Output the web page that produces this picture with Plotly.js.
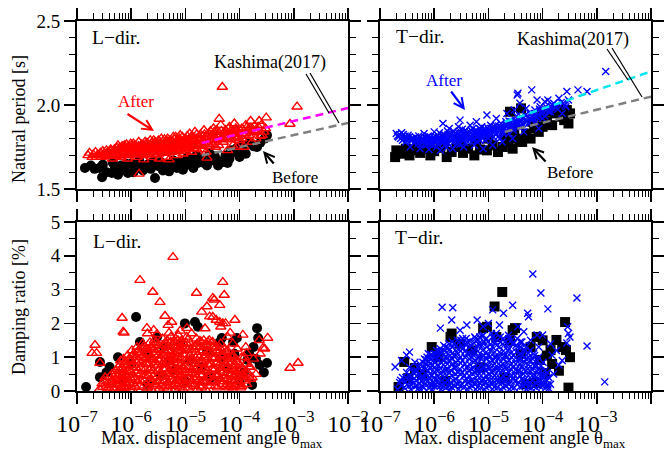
<!DOCTYPE html>
<html><head><meta charset="utf-8">
<script src="https://cdn.plot.ly/plotly-3.0.1.min.js"></script>
<style>html,body{margin:0;padding:0;background:#fff}#g{width:666px;height:454px}</style>
</head><body><div id="g"></div>
<script>
// ---------- Natural period, L-dir ----------
var perLBeforeX = [1.4e-7,2.1e-7,2.6e-7,2.9e-7,3.5e-7,4.4e-7,4.6e-7,5.7e-7,6.5e-7,7.5e-7,8.7e-7,1e-6,1.2e-6,1.4e-6,1.65e-6,2e-6,2.3e-6,2.75e-6,3.2e-6,3.85e-6,4.5e-6,5.5e-6,7e-6,8e-6,1e-5,1.2e-5,1.4e-5,1.7e-5,2e-5,2.5e-5,3e-5,3.5e-5,4.3e-5,4.9e-5,5.5e-5,6.5e-5,8e-5,1e-4,1.2e-4,1.55e-4,1.8e-4,2.1e-4,2.4e-4,2.9e-4,3.2e-4,1.3e-4,9e-5,7e-5,1.8e-7,3e-7,5e-7,8e-7,1.1e-6,1.5e-6,2.5e-6,3.5e-6,5e-6,6e-6,9e-6,1.1e-5,1.6e-5,2.2e-5,2.8e-5,4e-5,6e-5,1.1e-4];
var perLBeforeY = [1.625,1.62,1.625,1.57,1.60,1.595,1.655,1.585,1.64,1.61,1.595,1.65,1.62,1.67,1.61,1.645,1.62,1.565,1.635,1.61,1.65,1.63,1.625,1.66,1.64,1.67,1.625,1.655,1.68,1.64,1.67,1.695,1.665,1.66,1.70,1.68,1.72,1.69,1.735,1.78,1.755,1.75,1.775,1.80,1.82,1.71,1.745,1.73,1.64,1.645,1.625,1.65,1.60,1.64,1.66,1.66,1.605,1.67,1.615,1.69,1.70,1.655,1.71,1.64,1.655,1.76];
var perLAfterX = [1.6e-7,1.9e-7,2.2e-7,2.4e-7,2.8e-7,3.2e-7,3.5e-7,4e-7,4.5e-7,5e-7,5.5e-7,6e-7,6.5e-7,7e-7,7.5e-7,8e-7,8.5e-7,9e-7,1e-6,1.1e-6,1.2e-6,1.3e-6,1.4e-6,1.5e-6,1.6e-6,1.7e-6,1.8e-6,2e-6,2.2e-6,2.4e-6,2.6e-6,2.8e-6,3e-6,3.3e-6,3.6e-6,4e-6,4.4e-6,4.8e-6,5.2e-6,5.6e-6,6e-6,6.5e-6,7e-6,7.5e-6,8e-6,8.5e-6,9e-6,1e-5,1.1e-5,1.2e-5,1.3e-5,1.4e-5,1.5e-5,1.6e-5,1.8e-5,2e-5,2.2e-5,2.4e-5,2.5e-5,2.7e-5,3e-5,3.3e-5,3.6e-5,4e-5,4.2e-5,4.5e-5,4.8e-5,5e-5,5.5e-5,6e-5,6.5e-5,7e-5,7.5e-5,8e-5,9e-5,1e-4,1.1e-4,1.2e-4,1.3e-4,1.5e-4,1.6e-4,1.8e-4,2e-4,2.2e-4,2.3e-4,2.6e-4,3.1e-4,3e-4,8.5e-4,1.15e-3,3.8e-7,5.8e-7,6.8e-7,8.8e-7,9.5e-7,1.15e-6,1.35e-6,1.55e-6,1.9e-6,2.1e-6,2.3e-6,2.7e-6,3.1e-6,3.5e-6,3.9e-6,4.2e-6,4.6e-6,5e-6,5.4e-6,5.9e-6,6.3e-6,6.8e-6,7.3e-6,7.8e-6,8.3e-6,9.2e-6,1.05e-5,1.15e-5,1.25e-5,1.35e-5,1.45e-5,1.7e-5,1.9e-5,2.1e-5,2.3e-5,2.6e-5,2.9e-5,3.2e-5,3.5e-5,3.8e-5,4.4e-5,5.2e-5,5.8e-5,6.8e-5,7.8e-5,8.5e-5,9.5e-5,1.05e-4,1.25e-4,1.4e-4,1.7e-6,3.3e-6,5e-6,9e-5,1.7e-4,2.4e-4];
var perLAfterY = [1.70,1.69,1.72,1.705,1.69,1.71,1.73,1.70,1.68,1.72,1.745,1.70,1.69,1.73,1.76,1.71,1.68,1.74,1.705,1.77,1.72,1.69,1.59,1.75,1.73,1.70,1.78,1.72,1.76,1.69,1.79,1.74,1.71,1.77,1.80,1.73,1.69,1.76,1.79,1.72,1.81,1.75,1.70,1.78,1.82,1.74,1.71,1.80,1.76,1.83,1.72,1.78,1.84,1.74,1.81,1.77,1.85,1.72,1.685,1.83,1.79,1.86,1.75,1.82,1.917,1.88,2.107,1.78,1.85,1.73,1.87,1.81,1.76,1.89,1.84,1.79,1.86,1.75,1.88,1.82,1.905,1.85,1.80,1.87,1.905,1.82,1.925,1.86,1.887,1.99,1.72,1.73,1.755,1.725,1.755,1.745,1.735,1.765,1.745,1.705,1.735,1.765,1.75,1.725,1.785,1.755,1.735,1.775,1.745,1.765,1.795,1.735,1.765,1.80,1.755,1.785,1.745,1.795,1.765,1.815,1.755,1.795,1.825,1.755,1.805,1.775,1.845,1.765,1.81,1.85,1.795,1.835,1.80,1.845,1.825,1.86,1.81,1.845,1.815,1.85,1.675,1.68,1.675,1.75,1.78,1.815];
var perLAfterX2 = [1.7e-7,2.6e-7,3e-7,3.4e-7,4.2e-7,4.7e-7,5.3e-7,5.7e-7,6.2e-7,6.6e-7,7.2e-7,7.7e-7,8.2e-7,8.7e-7,9.2e-7,9.8e-7,1.05e-6,1.12e-6,1.18e-6,1.25e-6,1.32e-6,1.38e-6,1.45e-6,1.52e-6,1.65e-6,1.75e-6,1.85e-6,1.95e-6,2.05e-6,2.15e-6,2.25e-6,2.45e-6,2.55e-6,2.75e-6,2.9e-6,3.05e-6,3.2e-6,3.4e-6,3.7e-6,3.8e-6,4.1e-6,4.3e-6,4.5e-6,4.7e-6,4.9e-6,5.3e-6,5.7e-6,6.1e-6,6.6e-6,7.1e-6,7.6e-6,8.1e-6,8.8e-6,9.6e-6,1.02e-5,1.08e-5,1.18e-5,1.28e-5,1.38e-5,1.5e-5,1.62e-5,1.75e-5,1.95e-5,2.05e-5,2.25e-5,2.45e-5,2.75e-5,3.1e-5,3.4e-5,3.7e-5,4.1e-5,4.6e-5,5.4e-5,6.2e-5,6.6e-5,7.2e-5,8.2e-5,8.8e-5,1.15e-4,1.35e-4,1.55e-4,1.9e-4,2.1e-4,2.5e-4,2.8e-4,
  2e-7,2.3e-7,2.7e-7,3.1e-7,3.6e-7,4.1e-7,4.4e-7,4.9e-7,5.1e-7,5.6e-7,6.1e-7,6.4e-7,6.9e-7,7.4e-7,7.9e-7,8.4e-7,8.9e-7,9.4e-7,1.02e-6,1.08e-6,1.16e-6,1.22e-6,1.28e-6,1.36e-6,1.48e-6,1.58e-6,1.7e-6,1.82e-6,2.02e-6,2.18e-6,2.35e-6,2.6e-6,2.85e-6,3e-6,3.25e-6,3.55e-6,3.85e-6,4.2e-6,4.6e-6,5.1e-6,5.5e-6,6e-6,6.4e-6,7e-6,7.7e-6,8.4e-6,9.3e-6,1e-5,1.1e-5,1.22e-5,1.32e-5,1.55e-5,1.8e-5,2.15e-5,2.5e-5,3e-5,3.6e-5,4.3e-5,5e-5,5.6e-5,6.4e-5,7.6e-5,9.2e-5,1.1e-4,1.3e-4,1.6e-4,2e-4];
var perLAfterY2 = [1.715,1.70,1.725,1.695,1.735,1.715,1.695,1.76,1.72,1.74,1.705,1.745,1.765,1.74,1.70,1.77,1.73,1.71,1.76,1.75,1.715,1.78,1.725,1.705,1.755,1.735,1.715,1.775,1.755,1.735,1.79,1.755,1.72,1.78,1.76,1.735,1.79,1.76,1.74,1.715,1.795,1.77,1.715,1.80,1.755,1.725,1.785,1.75,1.81,1.785,1.725,1.79,1.81,1.765,1.725,1.815,1.74,1.80,1.745,1.79,1.825,1.76,1.80,1.735,1.825,1.79,1.755,1.815,1.84,1.79,1.76,1.845,1.81,1.86,1.795,1.83,1.805,1.85,1.83,1.865,1.84,1.875,1.845,1.88,1.84,
  1.705,1.69,1.715,1.70,1.715,1.725,1.705,1.735,1.70,1.725,1.745,1.71,1.725,1.70,1.735,1.715,1.75,1.72,1.74,1.755,1.725,1.705,1.74,1.755,1.74,1.72,1.76,1.74,1.705,1.75,1.77,1.745,1.705,1.755,1.72,1.77,1.75,1.72,1.785,1.745,1.765,1.73,1.77,1.75,1.765,1.78,1.745,1.785,1.77,1.785,1.79,1.77,1.785,1.79,1.81,1.795,1.825,1.815,1.80,1.83,1.82,1.845,1.83,1.80,1.83,1.86,1.84];
var fitLAfterX = [2e-5, 1e-2], fitLAfterY = [1.774, 1.982];
var fitLBeforeX = [2e-5, 1e-2], fitLBeforeY = [1.699, 1.893];

// ---------- Natural period, T-dir ----------
var perTBeforeX = [1.9e-7,2e-7,2.4e-7,3e-7,3.5e-7,4.2e-7,5.5e-7,7e-7,8.5e-7,1e-6,1.3e-6,1.7e-6,2.1e-6,2.6e-6,3.4e-6,4.2e-6,5.5e-6,7e-6,9.4e-6,1.2e-5,1.5e-5,1.85e-5,2.3e-5,2.8e-5,3.4e-5,3.8e-5,4.2e-5,5e-5,6e-5,7e-5,8.5e-5,1e-4,1e-4,1.2e-4,1.5e-4,1.7e-4,2.1e-4,2.5e-4,2.8e-4,3.2e-4,3e-4,2.2e-4,5e-7,1.5e-6,3e-6,6e-6,1e-5,2e-5,3e-5,6.5e-5,1.3e-4,2.5e-5,4e-5];
var perTBeforeY = [1.69,1.73,1.71,1.74,1.70,1.73,1.715,1.74,1.70,1.725,1.745,1.69,1.72,1.75,1.715,1.74,1.70,1.735,1.73,1.76,1.72,1.75,1.78,1.74,1.80,1.79,1.78,1.83,1.80,1.86,1.84,1.87,1.93,1.90,1.88,1.95,1.97,1.91,1.97,1.95,1.89,1.93,1.76,1.77,1.78,1.79,1.80,1.82,1.85,1.90,1.96,1.96,1.98];
var perTAfterX = [2e-7,2.2e-7,2.5e-7,2.8e-7,3e-7,3.3e-7,3.6e-7,4e-7,4.5e-7,5e-7,5.5e-7,6e-7,6.5e-7,7e-7,7.5e-7,8e-7,8.5e-7,9e-7,1e-6,1.1e-6,1.2e-6,1.3e-6,1.45e-6,1.5e-6,1.6e-6,1.7e-6,1.9e-6,2e-6,2.2e-6,2.4e-6,2.6e-6,2.8e-6,3e-6,3.2e-6,3.5e-6,3.8e-6,4.2e-6,4.6e-6,5e-6,5.5e-6,6e-6,6.5e-6,7e-6,7.5e-6,8e-6,8.5e-6,9.4e-6,1e-5,1.1e-5,1.2e-5,1.3e-5,1.4e-5,1.5e-5,1.7e-5,1.8e-5,2e-5,2.2e-5,2.4e-5,2.6e-5,2.8e-5,3e-5,3.4e-5,3.5e-5,3.6e-5,3.8e-5,4e-5,4.5e-5,5e-5,5.5e-5,6.3e-5,7e-5,7.9e-5,8.5e-5,9e-5,1e-4,1.1e-4,1.25e-4,1.4e-4,1.7e-4,2e-4,2.3e-4,2.8e-4,4.5e-4,6.6e-4,1.46e-3,3.8e-7,5.8e-7,6.8e-7,8.8e-7,9.5e-7,1.15e-6,1.35e-6,1.55e-6,1.8e-6,2.1e-6,2.3e-6,2.7e-6,3.1e-6,3.4e-6,3.9e-6,4.4e-6,4.8e-6,5.2e-6,5.8e-6,6.3e-6,6.8e-6,7.3e-6,7.8e-6,9e-6,1.05e-5,1.15e-5,1.25e-5,1.35e-5,1.6e-5,1.9e-5,2.1e-5,2.5e-5,2.9e-5,3.2e-5,4.2e-5,4.8e-5,6e-5,7.5e-5,9.5e-5,1.2e-4,1.6e-4];
var perTAfterY = [1.83,1.81,1.835,1.80,1.78,1.82,1.75,1.79,1.81,1.77,1.74,1.80,1.83,1.76,1.79,1.735,1.81,1.77,1.84,1.75,1.80,1.73,1.89,1.78,1.82,1.745,1.86,1.79,1.74,1.83,1.77,1.87,1.91,1.80,1.75,1.85,1.78,1.88,1.82,1.76,1.90,1.84,1.79,1.87,1.74,1.83,1.94,1.80,1.88,1.76,1.85,1.92,1.81,1.89,1.78,1.86,1.95,1.83,1.90,1.80,1.97,2.06,2.07,1.87,2.01,1.93,1.84,1.98,1.89,2.09,1.95,2.03,1.86,1.99,1.92,2.02,2.03,1.96,1.99,2.04,1.95,2.08,2.09,2.08,2.20,1.80,1.79,1.77,1.79,1.76,1.82,1.79,1.76,1.80,1.83,1.78,1.81,1.84,1.79,1.82,1.80,1.85,1.79,1.83,1.81,1.86,1.82,1.80,1.85,1.83,1.86,1.81,1.88,1.85,1.83,1.90,1.87,1.85,1.91,1.89,1.94,1.92,1.90,1.95,1.97,2.01];
var perTAfterX2 = [2.1e-7,2.4e-7,2.7e-7,3.1e-7,3.5e-7,4.2e-7,4.7e-7,5.2e-7,5.7e-7,6.2e-7,6.7e-7,7.2e-7,7.8e-7,8.3e-7,9.2e-7,1.02e-6,1.08e-6,1.18e-6,1.25e-6,1.32e-6,1.42e-6,1.5e-6,1.65e-6,1.75e-6,1.85e-6,1.97e-6,2.15e-6,2.25e-6,2.5e-6,2.65e-6,2.85e-6,2.95e-6,3.3e-6,3.6e-6,3.7e-6,4e-6,4.3e-6,4.7e-6,5.1e-6,5.4e-6,5.7e-6,6.1e-6,6.6e-6,7.1e-6,7.6e-6,8.2e-6,8.8e-6,9.7e-6,1.08e-5,1.18e-5,1.28e-5,1.42e-5,1.55e-5,1.65e-5,1.75e-5,1.85e-5,2.05e-5,2.3e-5,2.4e-5,2.7e-5,3.1e-5,3.3e-5,3.7e-5,4.1e-5,4.4e-5,5.2e-5,5.8e-5,6.6e-5,7.2e-5,8.2e-5,8.8e-5,1.05e-4,1.15e-4,1.35e-4,1.5e-4,1.8e-4,2.2e-4,2.6e-4,3e-4,
  2.3e-7,2.6e-7,2.9e-7,3.2e-7,3.7e-7,4.1e-7,4.6e-7,5.1e-7,5.6e-7,6.1e-7,6.6e-7,7.1e-7,7.7e-7,8.6e-7,9.6e-7,1.05e-6,1.14e-6,1.22e-6,1.36e-6,1.46e-6,1.62e-6,1.8e-6,2.05e-6,2.35e-6,2.55e-6,2.75e-6,3.1e-6,3.45e-6,3.8e-6,4.1e-6,4.5e-6,4.9e-6,5.3e-6,5.9e-6,6.4e-6,7e-6,7.8e-6,8.4e-6,9.2e-6,1.02e-5,1.12e-5,1.22e-5,1.38e-5,1.5e-5,1.7e-5,1.95e-5,2.2e-5,2.55e-5,2.85e-5,3.2e-5,3.6e-5,4e-5,4.7e-5,5.4e-5,6.2e-5,7e-5,8e-5,9.2e-5,1.1e-4,1.3e-4,1.45e-4,1.9e-4,2.4e-4,2.7e-4];
var perTAfterY2 = [1.815,1.80,1.825,1.795,1.81,1.775,1.795,1.815,1.765,1.785,1.805,1.78,1.815,1.765,1.80,1.78,1.81,1.765,1.835,1.80,1.775,1.825,1.795,1.845,1.77,1.815,1.80,1.845,1.80,1.785,1.83,1.765,1.855,1.81,1.775,1.835,1.80,1.815,1.86,1.80,1.84,1.785,1.825,1.855,1.81,1.845,1.79,1.865,1.815,1.84,1.87,1.83,1.875,1.80,1.86,1.845,1.88,1.86,1.905,1.875,1.89,1.935,1.905,1.87,1.92,1.905,1.95,1.925,1.97,1.94,1.975,1.955,1.99,1.975,2.0,1.985,2.015,2.0,2.03,
  1.825,1.79,1.815,1.805,1.79,1.80,1.785,1.80,1.785,1.795,1.79,1.805,1.795,1.785,1.81,1.795,1.785,1.81,1.815,1.795,1.81,1.825,1.79,1.815,1.83,1.80,1.815,1.835,1.80,1.82,1.84,1.805,1.825,1.85,1.82,1.84,1.825,1.86,1.835,1.85,1.83,1.86,1.85,1.84,1.87,1.86,1.88,1.895,1.865,1.90,1.885,1.91,1.895,1.93,1.91,1.94,1.925,1.955,1.935,1.96,1.99,1.975,2.01,1.99];
var fitTAfterX = [2e-5, 1e-2], fitTAfterY = [1.90, 2.20];
var fitTBeforeX = [2e-5, 1e-2], fitTBeforeY = [1.84, 2.05];

// ---------- Damping ratio, L-dir ----------
var dampLBeforeX = [1.47e-7,2.65e-7,2.65e-7,4e-7,5.7e-7,1.23e-6,1.45e-6,3e-6,9.8e-6,1.5e-5,1.7e-5,4.3e-5,4.7e-5,7.6e-5,8.9e-5,2.1e-4,2.2e-4,1.8e-4,1.4e-4,2.35e-4,3.2e-4,1.7e-4,6e-5,1.2e-4,8e-5,3.5e-7,7e-7,1e-6,2e-6,4e-6,6e-6,8e-6,1.2e-5,2.5e-5,3e-5,5e-5,1e-4,2e-6,5e-6,2e-5,1e-5,3.5e-6,1.5e-4,2.8e-4,2e-4];
var dampLBeforeY = [0.12,0.86,0.41,0.71,1.0,2.19,1.45,1.6,2.0,2.04,1.9,1.45,1.57,1.45,1.57,1.86,1.57,1.3,0.92,0.77,0.83,0.18,0.65,0.55,1.1,0.55,0.3,0.8,1.1,1.3,0.6,1.4,0.9,1.2,0.4,1.0,0.3,0.2,0.9,0.7,0.3,0.45,1.1,0.55,0.95];
var dampLAfterX = [2.6e-7,3e-7,3.2e-7,2.9e-7,3.8e-7,4e-7,4.2e-7,4.8e-7,5e-7,5.2e-7,5.4e-7,5.9e-7,6.1e-7,6.3e-7,6e-7,6.8e-7,7e-7,7.2e-7,7.4e-7,7.9e-7,8.1e-7,8.3e-7,8.6e-7,9.3e-7,9.7e-7,1e-6,1.03e-6,1.06e-6,1.15e-6,1.2e-6,1.24e-6,1.28e-6,1.18e-6,1.42e-6,1.48e-6,1.53e-6,1.57e-6,1.62e-6,1.74e-6,1.8e-6,1.86e-6,1.9e-6,1.95e-6,2.02e-6,2.07e-6,2.12e-6,2.17e-6,2.22e-6,2.4e-6,2.48e-6,2.55e-6,2.62e-6,2.7e-6,2.35e-6,2.9e-6,2.98e-6,3.06e-6,3.14e-6,3.22e-6,3.4e-6,3.5e-6,3.6e-6,3.7e-6,3.8e-6,3.3e-6,4e-6,4.1e-6,4.2e-6,4.3e-6,4.45e-6,4.8e-6,4.95e-6,5.1e-6,5.25e-6,5.4e-6,4.65e-6,5.8e-6,5.95e-6,6.1e-6,6.25e-6,6.4e-6,6.8e-6,6.95e-6,7.1e-6,7.25e-6,7.4e-6,6.6e-6,7.8e-6,8e-6,8.2e-6,8.4e-6,8.6e-6,9.4e-6,9.7e-6,1e-5,1.03e-5,1.06e-5,9.1e-6,1.15e-5,1.18e-5,1.21e-5,1.24e-5,1.12e-5,1.42e-5,1.47e-5,1.51e-5,1.55e-5,1.6e-5,1.72e-5,1.77e-5,1.82e-5,1.87e-5,1.68e-5,1.98e-5,2.03e-5,2.08e-5,2.13e-5,2.18e-5,2.4e-5,2.47e-5,2.54e-5,2.61e-5,2.35e-5,2.85e-5,2.93e-5,3.01e-5,3.09e-5,3.17e-5,3.4e-5,3.5e-5,3.6e-5,3.7e-5,3.9e-5,4e-5,4.1e-5,4.2e-5,4.8e-5,4.95e-5,5.1e-5,5.25e-5,5.8e-5,5.95e-5,6.1e-5,6.25e-5,6.8e-5,7e-5,7.2e-5,7.8e-5,8e-5,8.3e-5,9.6e-5,1e-4,1.04e-4,1.17e-4,1.22e-4,1.27e-4,1.5e-4,
  1.9e-7,2.15e-7,2.3e-7,2.65e-7,6.8e-7,7.1e-7,7.4e-7,1.45e-6,2.5e-6,3.4e-6,1.95e-6,2.6e-6,4.2e-6,4.8e-6,5.9e-6,5.6e-6,1.6e-5,1.07e-5,2e-5,2.5e-5,3.2e-5,3.4e-5,4.3e-5,4.9e-5,5.2e-5,3.2e-5,4.3e-5,4.9e-5,8.2e-5,6.7e-5,1.15e-4,2.3e-4,3.3e-4,2.7e-4,8.5e-4,1.2e-3,1.56e-4,1.1e-4,1e-4,2e-6,3e-6,5e-6,8e-6,1.3e-5,2.3e-5,2.8e-5,3.7e-5,4.5e-5,5.5e-5,6e-5,7.5e-5,9e-5,1.3e-4,1.35e-4,1.8e-4,2e-4,1.7e-4,2.4e-4,2.9e-4];
var dampLAfterY = [0.05,0.12,0.3,0.22,0.1,0.42,0.25,0.06,0.35,0.58,0.18,0.2,0.5,0.78,0.04,0.3,0.66,0.95,0.14,0.1,0.45,0.75,1.05,0.22,0.56,0.9,1.2,0.04,0.36,0.7,1.0,1.3,0.12,0.16,0.5,0.86,1.15,1.4,0.3,0.64,0.96,1.25,0.06,0.1,0.46,0.8,1.1,1.44,0.25,0.6,0.92,1.22,1.5,0.04,0.15,0.4,0.75,1.05,1.35,0.3,0.56,0.95,1.26,1.55,0.06,0.1,0.45,0.8,1.16,1.4,0.25,0.6,0.9,1.3,1.6,0.05,0.15,0.5,0.85,1.1,1.45,0.3,0.65,1.0,1.35,1.65,0.05,0.1,0.45,0.76,1.2,1.5,0.2,0.55,0.9,1.25,1.6,0.05,0.35,0.7,1.05,1.4,0.1,0.15,0.5,0.8,1.15,1.55,0.3,0.65,1.0,1.3,0.05,0.1,0.45,0.85,1.2,1.5,0.25,0.6,0.95,1.35,0.05,0.15,0.5,0.8,1.1,1.45,0.3,0.65,1.0,1.3,0.1,0.45,0.75,1.15,0.2,0.55,0.9,1.25,0.35,0.7,1.0,0.1,0.15,0.5,0.85,0.3,0.6,0.95,0.41,0.2,0.75,0.5,1.0,0.3,0.71,
  1.12,1.36,1.12,0.83,2.16,1.75,1.72,3.28,2.93,2.63,1.86,1.8,2.22,1.95,3.96,2.04,2.9,1.86,2.34,2.5,2.75,2.7,2.54,3.22,2.84,2.19,2.04,2.0,2.1,1.72,1.66,1.5,1.57,1.27,0.68,0.83,0.71,1.0,0.41,1.7,1.68,1.72,1.78,1.7,1.85,2.2,2.1,1.9,2.0,1.6,1.4,1.25,1.3,1.12,0.95,0.5,0.4,1.1,1.25];
var dampLAfterX2 = [3.5e-7,3.6e-7,4.5e-7,4.4e-7,5.6e-7,5.7e-7,6.5e-7,6.6e-7,6.4e-7,7.6e-7,7.7e-7,7.6e-7,8.9e-7,9e-7,9.1e-7,1.08e-6,1.1e-6,1.12e-6,1.1e-6,1.32e-6,1.35e-6,1.37e-6,1.39e-6,1.66e-6,1.68e-6,1.7e-6,1.72e-6,1.71e-6,2.28e-6,2.3e-6,2.32e-6,2.34e-6,2.76e-6,2.8e-6,2.84e-6,2.78e-6,2.74e-6,3.85e-6,3.9e-6,3.95e-6,3.88e-6,4.55e-6,4.6e-6,4.62e-6,4.68e-6,4.58e-6,5.55e-6,5.6e-6,5.65e-6,5.7e-6,6.5e-6,6.55e-6,6.6e-6,6.65e-6,6.58e-6,7.55e-6,7.6e-6,7.65e-6,7.7e-6,8.9e-6,9e-6,9.1e-6,9.2e-6,1.09e-5,1.1e-5,1.1e-5,1.1e-5,1.1e-5,1.32e-5,1.34e-5,1.36e-5,1.38e-5,1.64e-5,1.65e-5,1.66e-5,1.64e-5,1.92e-5,1.93e-5,1.94e-5,1.95e-5,2.25e-5,2.28e-5,2.3e-5,2.3e-5,2.7e-5,2.72e-5,2.75e-5,2.76e-5,3.25e-5,3.28e-5,3.3e-5,3.3e-5,3.8e-5,3.82e-5,3.85e-5,4.45e-5,4.5e-5,4.55e-5,4.5e-5,5.5e-5,5.52e-5,5.55e-5,5.6e-5,6.5e-5,6.55e-5,6.6e-5,7.5e-5,7.55e-5,7.6e-5,7.6e-5,8.8e-5,8.9e-5,9e-5,1.1e-4,1.12e-4,1.35e-4,1.4e-4,1.6e-4,
  3.3e-7,4.1e-7,4.6e-7,5.1e-7,5.5e-7,6.2e-7,6.7e-7,7.3e-7,7.5e-7,8.4e-7,8.5e-7,9.5e-7,9.6e-7,9.9e-7,1.05e-6,1.22e-6,1.26e-6,1.3e-6,1.45e-6,1.5e-6,1.55e-6,1.6e-6,1.83e-6,1.88e-6,1.93e-6,2.1e-6,2.15e-6,2.2e-6,2.25e-6,2.5e-6,2.58e-6,2.65e-6,2.68e-6,3.1e-6,3.18e-6,3.25e-6,3.28e-6,3.55e-6,3.65e-6,3.75e-6,3.8e-6,4.25e-6,4.35e-6,4.4e-6,4.5e-6,5e-6,5.2e-6,5.3e-6,5.35e-6,6e-6,6.2e-6,6.35e-6,6.35e-6,7e-6,7.2e-6,7.3e-6,7.35e-6,7.3e-6,8.3e-6,8.5e-6,8.5e-6,8.6e-6,9.9e-6,1.01e-5,1.02e-5,1.03e-5,1.22e-5,1.25e-5,1.27e-5,1.28e-5,1.45e-5,1.5e-5,1.53e-5,1.57e-5,1.8e-5,1.85e-5,1.86e-5,1.88e-5,1.85e-5,2.1e-5,2.15e-5,2.18e-5,2.2e-5,2.55e-5,2.6e-5,2.62e-5,2.6e-5,3.05e-5,3.1e-5,3.12e-5,3.15e-5,3.6e-5,3.65e-5,3.7e-5,3.72e-5,4.2e-5,4.25e-5,4.3e-5,4.3e-5,5e-5,5.05e-5,5.1e-5,6e-5,6.05e-5,6.1e-5,6.1e-5,7e-5,7.1e-5,7.2e-5,8.1e-5,8.2e-5,8.3e-5,9.5e-5,9.7e-5,1.05e-4,1.25e-4,1.3e-4,1.45e-4];
var dampLAfterY2 = [0.18,0.05,0.3,0.5,0.42,0.7,0.12,0.45,0.9,0.55,0.85,0.25,0.32,0.62,0.95,0.48,0.78,1.1,0.22,0.28,0.6,0.9,1.22,0.12,0.45,0.78,1.05,1.32,0.35,0.68,1.0,1.3,0.5,0.85,1.15,1.42,0.2,0.3,0.65,1.05,1.35,0.15,0.5,0.85,1.2,1.5,0.35,0.72,1.0,1.35,0.2,0.55,0.95,1.25,1.55,0.32,0.62,0.92,1.42,0.38,0.72,1.08,1.4,0.2,0.55,0.88,1.22,1.52,0.3,0.62,0.95,1.3,0.4,0.72,1.05,1.4,0.25,0.58,0.9,1.45,0.3,0.68,1.05,1.38,0.4,0.78,1.15,1.5,0.25,0.6,0.95,1.3,0.5,0.85,1.2,0.35,0.68,1.05,1.4,0.15,0.45,0.8,1.15,0.3,0.62,0.95,0.1,0.42,0.72,1.05,0.2,0.55,0.85,0.15,0.65,0.2,0.55,0.35,
  0.4,0.05,0.2,0.48,0.28,0.62,0.08,0.4,0.78,0.58,0.2,0.05,0.4,0.75,1.05,0.52,0.85,1.15,0.32,0.68,1.0,1.28,0.45,0.8,1.1,0.28,0.62,0.95,1.28,0.42,0.78,1.08,1.36,0.28,0.6,0.9,1.22,0.15,0.42,0.8,1.1,0.3,0.65,0.98,1.3,0.42,0.78,1.15,1.45,0.32,0.68,1.0,1.3,0.15,0.48,0.82,1.18,1.5,0.28,0.62,0.98,1.32,0.38,0.72,1.08,1.42,0.2,0.52,0.88,1.22,0.35,0.65,0.98,1.32,0.15,0.48,0.82,1.15,1.48,0.28,0.62,1.0,1.32,0.42,0.78,1.12,1.45,0.32,0.65,0.98,1.28,0.15,0.45,0.82,1.15,0.28,0.6,0.95,1.28,0.38,0.72,1.08,0.2,0.52,0.85,1.18,0.32,0.65,1.0,0.15,0.45,0.78,0.3,0.6,0.1,0.4,0.8,0.45];

// ---------- Damping ratio, T-dir ----------
var dampTBeforeX = [1.8e-5,1.3e-5,3.1e-5,7.8e-5,2.6e-4,1.8e-4,2.7e-4,3.2e-4,1.4e-4,8.9e-5,1.1e-4,7.8e-5,9e-7,2.8e-7,2.2e-7,4.4e-7,3.3e-7,2e-6,9.4e-6,1.4e-5,1.2e-6,3e-6,5e-6,2.5e-5,4e-5,6e-5,1e-4,1.5e-4,2e-4,6e-7,1.6e-6,7e-6,2e-5,5e-5,3e-4,1.2e-4,2.3e-4,8e-6,2.8e-5,2.1e-6];
var dampTBeforeY = [2.93,2.5,1.86,1.6,2.04,1.51,1.21,1.0,1.21,0.92,0.53,0.24,1.3,0.86,0.12,0.68,0.38,1.6,1.9,1.6,1.0,1.4,1.2,1.5,1.1,1.3,1.5,0.8,0.6,0.5,0.3,0.7,0.4,0.2,0.1,1.05,1.3,1.86,1.8,1.7];
var dampTAfterX = [2.1e-7,2.3e-7,2.8e-7,3e-7,3.2e-7,3.7e-7,3.9e-7,4.1e-7,4.6e-7,4.8e-7,5e-7,5.6e-7,5.8e-7,6e-7,6.2e-7,6.8e-7,7e-7,7.2e-7,7.4e-7,8e-7,8.2e-7,8.5e-7,8.8e-7,9.5e-7,9.8e-7,1.01e-6,1.04e-6,9.2e-7,1.13e-6,1.17e-6,1.21e-6,1.25e-6,1.29e-6,1.38e-6,1.43e-6,1.48e-6,1.53e-6,1.34e-6,1.65e-6,1.7e-6,1.76e-6,1.82e-6,1.88e-6,2e-6,2.06e-6,2.12e-6,2.18e-6,1.95e-6,2.4e-6,2.47e-6,2.54e-6,2.61e-6,2.68e-6,2.9e-6,2.98e-6,3.06e-6,3.14e-6,2.82e-6,3.5e-6,3.6e-6,3.7e-6,3.8e-6,3.9e-6,4.2e-6,4.32e-6,4.44e-6,4.56e-6,4.1e-6,5e-6,5.15e-6,5.3e-6,5.45e-6,5.6e-6,6e-6,6.2e-6,6.4e-6,6.6e-6,5.85e-6,7.2e-6,7.4e-6,7.6e-6,7.8e-6,8e-6,8.6e-6,8.85e-6,9.1e-6,9.35e-6,8.4e-6,1.02e-5,1.05e-5,1.08e-5,1.11e-5,1.14e-5,1.22e-5,1.26e-5,1.3e-5,1.34e-5,1.19e-5,1.46e-5,1.5e-5,1.55e-5,1.6e-5,1.65e-5,1.75e-5,1.8e-5,1.86e-5,1.92e-5,1.7e-5,2.1e-5,2.16e-5,2.22e-5,2.28e-5,2.35e-5,2.5e-5,2.58e-5,2.66e-5,2.74e-5,2.45e-5,3e-5,3.1e-5,3.2e-5,3.3e-5,3.4e-5,3.6e-5,3.7e-5,3.8e-5,3.9e-5,4.3e-5,4.45e-5,4.6e-5,4.75e-5,5.2e-5,5.35e-5,5.5e-5,5.1e-5,6.2e-5,6.4e-5,6.6e-5,6.8e-5,7.4e-5,7.7e-5,8e-5,8.8e-5,9.1e-5,9.4e-5,1.05e-4,1.1e-4,1.15e-4,1.25e-4,1.3e-4,
  6.6e-5,9.3e-5,4.3e-4,1.25e-4,2.8e-5,1.4e-6,2.2e-6,2.9e-4,6.6e-4,1.4e-3,5.3e-5,5.5e-5,7.9e-5,3.1e-7,1.9e-7,4e-6,6.2e-6,1.2e-5,1.9e-5,1.3e-6,2.1e-6,1e-4,2.8e-4,1.5e-4,2e-4,1.2e-4,3.5e-7,2.5e-7,1e-5,1.6e-5,3.5e-5,4.5e-5,8.5e-5,1.8e-4,3e-4,2.3e-4,1.6e-4,6e-5,3e-6,8e-6,1.4e-4,3.2e-4];
var dampTAfterY = [0.05,0.25,0.1,0.4,0.2,0.05,0.3,0.55,0.15,0.45,0.7,0.05,0.3,0.6,0.85,0.2,0.5,0.8,1.0,0.1,0.4,0.7,0.95,0.25,0.55,0.85,1.1,0.05,0.15,0.45,0.75,1.05,1.25,0.3,0.6,0.9,1.2,0.05,0.1,0.45,0.8,1.1,1.4,0.25,0.6,0.95,1.3,0.05,0.15,0.5,0.85,1.15,1.5,0.3,0.65,1.0,1.35,0.05,0.1,0.45,0.8,1.2,1.55,0.25,0.6,0.95,1.3,0.05,0.15,0.5,0.85,1.15,1.6,0.3,0.65,1.0,1.4,0.05,0.1,0.45,0.8,1.2,1.65,0.25,0.6,0.95,1.3,0.05,0.15,0.5,0.85,1.2,1.7,0.3,0.65,1.0,1.45,0.05,0.1,0.45,0.8,1.15,1.6,0.25,0.6,0.95,1.35,0.05,0.15,0.5,0.85,1.2,1.65,0.3,0.65,1.0,1.4,0.05,0.1,0.45,0.8,1.15,1.55,0.25,0.6,0.95,1.3,0.15,0.5,0.85,1.2,0.3,0.65,1.0,0.05,0.1,0.45,0.8,1.1,0.25,0.6,0.9,0.15,0.45,0.75,0.3,0.6,0.1,0.18,0.4,
  3.46,2.9,2.75,2.43,2.54,2.48,2.46,1.9,1.33,0.27,2.3,2.2,1.66,1.06,0.71,1.95,2.1,2.4,2.3,1.86,2.1,1.66,1.42,1.06,0.77,0.18,1.15,0.9,2.0,1.95,1.9,1.75,1.3,1.2,1.7,0.9,0.5,1.5,1.8,1.9,1.4,1.6];
var dampTAfterX2 = [2.5e-7,2.6e-7,3.4e-7,3.5e-7,3.5e-7,4.3e-7,4.4e-7,4.4e-7,5.3e-7,5.3e-7,5.4e-7,6.5e-7,6.5e-7,6.6e-7,6.6e-7,7.7e-7,7.7e-7,7.8e-7,7.8e-7,9e-7,9e-7,9.1e-7,9.1e-7,1.08e-6,1.09e-6,1.1e-6,1.1e-6,1.3e-6,1.3e-6,1.32e-6,1.32e-6,1.58e-6,1.6e-6,1.6e-6,1.6e-6,1.9e-6,1.9e-6,1.92e-6,1.92e-6,2.28e-6,2.3e-6,2.3e-6,2.32e-6,2.75e-6,2.75e-6,2.76e-6,2.78e-6,3.3e-6,3.3e-6,3.32e-6,3.35e-6,3.35e-6,4e-6,4e-6,4.02e-6,4.05e-6,4.8e-6,4.8e-6,4.82e-6,4.85e-6,5.75e-6,5.75e-6,5.78e-6,5.8e-6,5.8e-6,6.9e-6,6.9e-6,6.95e-6,6.95e-6,6.9e-6,8.2e-6,8.25e-6,8.25e-6,8.3e-6,9.7e-6,9.75e-6,9.8e-6,9.8e-6,1.17e-5,1.17e-5,1.18e-5,1.18e-5,1.18e-5,1.4e-5,1.4e-5,1.41e-5,1.42e-5,1.4e-5,1.68e-5,1.68e-5,1.7e-5,1.7e-5,2e-5,2e-5,2.02e-5,2.02e-5,2.4e-5,2.4e-5,2.42e-5,2.42e-5,2.4e-5,2.85e-5,2.85e-5,2.88e-5,2.88e-5,3.45e-5,3.45e-5,3.48e-5,3.5e-5,4.1e-5,4.1e-5,4.12e-5,4.15e-5,4.9e-5,4.92e-5,4.95e-5,4.95e-5,5.8e-5,5.85e-5,5.9e-5,5.9e-5,7e-5,7.05e-5,7.1e-5,7.1e-5,8.3e-5,8.35e-5,8.4e-5,1e-4,1e-4,1.02e-4,1.2e-4,1.22e-4,1.4e-4,
  2.4e-7,2.9e-7,3.1e-7,3.8e-7,3.8e-7,4.7e-7,4.8e-7,4.9e-7,5.7e-7,5.9e-7,5.9e-7,6.9e-7,7e-7,7.1e-7,8.3e-7,8.4e-7,8.6e-7,8.7e-7,1e-6,1.02e-6,1.03e-6,1e-6,1.2e-6,1.22e-6,1.23e-6,1.24e-6,1.45e-6,1.46e-6,1.48e-6,1.5e-6,1.5e-6,1.73e-6,1.75e-6,1.78e-6,1.8e-6,2.09e-6,2.1e-6,2.12e-6,2.15e-6,2.15e-6,2.5e-6,2.52e-6,2.55e-6,2.58e-6,3e-6,3.02e-6,3.05e-6,3.08e-6,3.1e-6,3.65e-6,3.68e-6,3.7e-6,3.72e-6,4.4e-6,4.4e-6,4.45e-6,4.48e-6,4.5e-6,5.25e-6,5.3e-6,5.35e-6,5.4e-6,6.3e-6,6.3e-6,6.35e-6,6.4e-6,6.45e-6,7.6e-6,7.62e-6,7.65e-6,7.68e-6,7.6e-6,9e-6,9.05e-6,9.08e-6,9.1e-6,9.12e-6,1.07e-5,1.08e-5,1.09e-5,1.1e-5,1.28e-5,1.29e-5,1.3e-5,1.31e-5,1.31e-5,1.55e-5,1.56e-5,1.57e-5,1.58e-5,1.85e-5,1.86e-5,1.87e-5,1.88e-5,1.88e-5,2.2e-5,2.22e-5,2.24e-5,2.25e-5,2.65e-5,2.66e-5,2.68e-5,2.7e-5,2.7e-5,3.15e-5,3.18e-5,3.2e-5,3.22e-5,3.8e-5,3.82e-5,3.85e-5,3.86e-5,3.86e-5,4.5e-5,4.55e-5,4.6e-5,4.6e-5,5.4e-5,5.45e-5,5.5e-5,5.5e-5,6.5e-5,6.55e-5,6.6e-5,7.6e-5,7.7e-5,7.8e-5,9e-5,9.2e-5,1.08e-4,1.1e-4,1.3e-4];
var dampTAfterY2 = [0.15,0.4,0.15,0.45,0.7,0.25,0.6,0.85,0.2,0.5,0.8,0.1,0.4,0.7,0.95,0.3,0.6,0.88,1.1,0.15,0.45,0.75,1.05,0.3,0.62,0.95,1.2,0.15,0.5,0.85,1.15,0.25,0.62,0.98,1.3,0.15,0.55,0.9,1.22,0.3,0.7,1.05,1.4,0.2,0.55,0.9,1.25,0.2,0.55,0.9,1.25,1.55,0.35,0.7,1.1,1.45,0.3,0.65,1.0,1.35,0.2,0.55,0.9,1.25,1.55,0.25,0.62,1.0,1.35,1.6,0.35,0.7,1.05,1.45,0.35,0.7,1.05,1.45,0.2,0.55,0.9,1.3,1.6,0.3,0.65,1.0,1.35,1.7,0.35,0.75,1.1,1.45,0.3,0.7,1.05,1.45,0.2,0.55,0.9,1.25,1.55,0.35,0.7,1.05,1.4,0.2,0.6,0.95,1.3,0.35,0.7,1.05,1.45,0.2,0.6,0.95,1.3,0.25,0.6,0.9,1.2,0.15,0.45,0.75,1.05,0.3,0.62,1.0,0.15,0.45,0.85,0.3,0.55,0.2,
  0.32,0.25,0.55,0.42,0.18,0.32,0.6,0.05,0.4,0.72,0.15,0.32,0.65,0.92,0.22,0.52,0.82,1.08,0.4,0.7,1.0,0.15,0.3,0.62,0.92,1.18,0.15,0.45,0.78,1.08,1.35,0.3,0.65,0.98,1.28,0.12,0.45,0.78,1.12,1.45,0.35,0.7,1.05,1.35,0.15,0.5,0.82,1.18,1.5,0.3,0.62,1.0,1.38,0.12,0.45,0.8,1.12,1.48,0.3,0.68,1.05,1.42,0.12,0.45,0.82,1.18,1.52,0.28,0.62,1.0,1.35,1.62,0.12,0.45,0.8,1.15,1.55,0.3,0.68,1.02,1.38,0.12,0.45,0.8,1.15,1.55,0.28,0.62,0.98,1.3,0.12,0.45,0.8,1.18,1.55,0.32,0.68,1.02,1.38,0.12,0.45,0.8,1.15,1.5,0.3,0.62,0.98,1.35,0.12,0.45,0.8,1.12,1.45,0.3,0.65,1.0,1.35,0.12,0.45,0.78,1.12,0.3,0.62,0.95,0.1,0.42,0.75,0.3,0.6,0.2,0.45,0.08];

// ---------- axis tick settings ----------
var perTicks = [1.5, 2.0, 2.5];
var dampTicks = [0, 1, 2, 3, 4, 5];

var W = 666, H = 454;
function px(v){ return v / W; }
function py(v){ return 1 - v / H; }

var FONT = 'Liberation Serif, Times New Roman, serif';

function mk(x, y, xa, ya, marker, mode, line){
  var t = {x: x, y: y, xaxis: xa, yaxis: ya, type: 'scatter', mode: mode || 'markers', hoverinfo: 'skip'};
  if (marker) t.marker = marker;
  if (line) t.line = line;
  return t;
}
var mCircle = {symbol: 'circle', size: 10, color: '#000'};
var mTri = {symbol: 'triangle-up-open', size: 9, color: '#ff0000', line: {color: '#ff0000', width: 1.4}};
var mSq = {symbol: 'square', size: 10, color: '#000'};
var mX = {symbol: 'x-thin-open', size: 7, color: '#0000ff', line: {color: '#0000ff', width: 1.4}};

var data = [
  mk(perLBeforeX, perLBeforeY, 'x', 'y', mCircle),
  mk(perLAfterX.concat(perLAfterX2), perLAfterY.concat(perLAfterY2), 'x', 'y', mTri),
  mk(fitLBeforeX, fitLBeforeY, 'x', 'y', null, 'lines', {color: '#808080', width: 2.5, dash: '8px,5px'}),
  mk(fitLAfterX, fitLAfterY, 'x', 'y', null, 'lines', {color: '#ff00ff', width: 2.5, dash: '8px,5px'}),
  mk(perTBeforeX, perTBeforeY, 'x2', 'y2', mSq),
  mk(perTAfterX.concat(perTAfterX2), perTAfterY.concat(perTAfterY2), 'x2', 'y2', mX),
  mk(fitTBeforeX, fitTBeforeY, 'x2', 'y2', null, 'lines', {color: '#808080', width: 2.5, dash: '8px,5px'}),
  mk(fitTAfterX, fitTAfterY, 'x2', 'y2', null, 'lines', {color: '#00e5ee', width: 2.5, dash: '8px,5px'}),
  mk(dampLBeforeX, dampLBeforeY, 'x3', 'y3', mCircle),
  mk(dampLAfterX.concat(dampLAfterX2), dampLAfterY.concat(dampLAfterY2), 'x3', 'y3', mTri),
  mk(dampTBeforeX, dampTBeforeY, 'x4', 'y4', mSq),
  mk(dampTAfterX.concat(dampTAfterX2), dampTAfterY.concat(dampTAfterY2), 'x4', 'y4', mX)
];

function xa(dom, anchor, labels){
  return {domain: dom, anchor: anchor, type: 'log', range: [-7, -2], dtick: 1,
    exponentformat: 'power', showticklabels: labels, ticks: 'outside', ticklen: 11, tickwidth: 1.5,
    tickcolor: '#000', showline: true, linewidth: 2, linecolor: '#000', mirror: 'allticks',
    showgrid: false, zeroline: false, tickfont: {family: FONT, size: 19, color: '#000'},
    minor: {ticks: 'outside', ticklen: 6, tickwidth: 1, tickcolor: '#000', dtick: 'D1', showgrid: false}};
}
function ya(dom, anchor, labels, rng, ticks, minorStep){
  return {domain: dom, anchor: anchor, range: rng, tickmode: 'array', tickvals: ticks,
    ticktext: ticks.map(function(v){ return rng[1] < 3 ? v.toFixed(1) : String(v); }),
    showticklabels: labels, ticks: 'outside', ticklen: 11, tickwidth: 1.5, tickcolor: '#000',
    showline: true, linewidth: 2, linecolor: '#000', mirror: 'allticks', showgrid: false, zeroline: false,
    tickfont: {family: FONT, size: 19, color: '#000'},
    minor: {ticks: 'outside', ticklen: 6, tickwidth: 1, tickcolor: '#000', dtick: minorStep, tick0: 0, showgrid: false}};
}

var xL = [px(77), px(348)], xR = [px(380), px(651)];
var yT = [py(189), py(21)], yB = [py(391), py(222)];

function txt(x, y, s, color, size, angle){
  return {xref: 'paper', yref: 'paper', x: px(x), y: py(y), text: s, showarrow: false, textangle: angle || 0,
    xanchor: 'center', yanchor: 'middle', font: {family: FONT, size: size || 17, color: color || '#000'}};
}
function arr(hx, hy, tx, ty, color){
  return {xref: 'paper', yref: 'paper', x: px(hx), y: py(hy), ax: tx - hx, ay: ty - hy, text: '',
    showarrow: true, arrowhead: 5, arrowsize: 0.9, arrowwidth: 2.2, arrowcolor: color};
}
function seg(x0, y0, x1, y1){
  return {type: 'line', xref: 'paper', yref: 'paper', x0: px(x0), y0: py(y0), x1: px(x1), y1: py(y1),
    line: {color: '#000', width: 1.2}};
}

var xTitle = 'Max. displacement angle θ<sub>max</sub>';
var layout = {
  width: W, height: H, margin: {l: 0, r: 0, t: 0, b: 0},
  paper_bgcolor: '#fff', plot_bgcolor: '#fff', showlegend: false,
  font: {family: FONT, color: '#000'},
  xaxis: xa(xL, 'y', false), yaxis: ya(yT, 'x', true, [1.5, 2.5], perTicks, 0.1),
  xaxis2: xa(xR, 'y2', false), yaxis2: ya(yT, 'x2', false, [1.5, 2.5], perTicks, 0.1),
  xaxis3: xa(xL, 'y3', true), yaxis3: ya(yB, 'x3', true, [0, 5], dampTicks, 0.5),
  xaxis4: xa(xR, 'y4', true), yaxis4: ya(yB, 'x4', false, [0, 5], dampTicks, 0.5),
  annotations: [
    txt(19, 119, 'Natural period [s]', '#000', 18, -90),
    txt(19, 307, 'Damping ratio [%]', '#000', 18, -90),
    txt(212, 439, xTitle, '#000', 18.5), txt(515, 439, xTitle, '#000', 18.5),
    txt(116, 38, 'L−dir.', '#000', 19.5), txt(420, 37, 'T−dir.', '#000', 19.5),
    txt(117, 241, 'L−dir.', '#000', 19.5), txt(419, 238, 'T−dir.', '#000', 19.5),
    txt(270, 63, 'Kashima(2017)', '#000', 18), txt(573, 39, 'Kashima(2017)', '#000', 18),
    txt(136, 101, 'After', '#ff0000'), txt(295, 178, 'Before'),
    txt(444, 80, 'After', '#0000ff'), txt(570, 173, 'Before'),
    arr(154, 131, 126, 113, '#ff0000'), arr(263, 151, 275, 165, '#000'),
    arr(465, 110, 450, 90, '#0000ff'), arr(532, 147, 547, 163, '#000')
  ],
  shapes: [seg(306, 74, 329, 113), seg(310, 73, 339, 123), seg(607, 49, 628, 80), seg(612, 48, 642, 97)]
};

Plotly.newPlot('g', data, layout, {staticPlot: true, displayModeBar: false});
</script></body></html>
